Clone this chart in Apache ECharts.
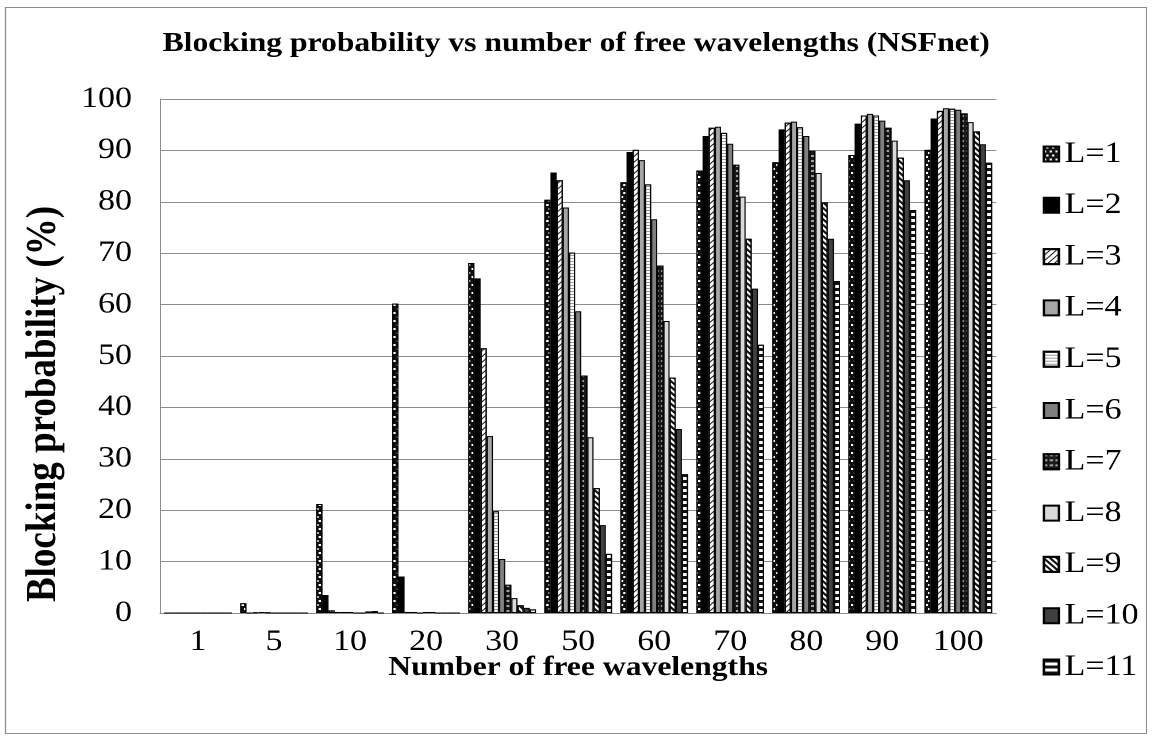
<!DOCTYPE html>
<html>
<head>
<meta charset="utf-8">
<script src="https://cdn.jsdelivr.net/npm/echarts@6/dist/echarts.min.js"></script>
<style>
  html, body { margin: 0; padding: 0; background: #fff; overflow: hidden; }
  #wrap { width: 1152px; height: 740px; overflow: hidden; }
  #chart { height: 740px; transform-origin: 0 0; }
</style>
</head>
<body>
<div id="wrap"><div id="chart"></div></div>
<script>
// Number of free wavelengths (x categories)
const categories = ['1', '5', '10', '20', '30', '50', '60', '70', '80', '90', '100'];

// Blocking probability (%) for each path length L
const L1  = [0, 1.9, 21.2, 60.2, 68.1, 80.4, 83.8, 86.1, 87.7, 89.1, 90.1];
const L2  = [0, 0,    3.5,  7.1, 65.1, 85.7, 89.7, 92.8, 94.1, 95.2, 96.2];
const L3  = [0, 0.1,  0.5,  0.2, 51.5, 84.2, 90.1, 94.4, 95.4, 96.8, 97.7];
const L4  = [0, 0.2,  0.2,  0.2, 34.4, 78.9, 88.1, 94.6, 95.6, 97.1, 98.2];
const L5  = [0, 0.1,  0.2,  0,   19.8, 70.1, 83.4, 93.4, 94.5, 96.8, 98.1];
const L6  = [0, 0,    0.2,  0.2, 10.5, 58.7, 76.6, 91.3, 92.8, 95.8, 97.9];
const L7  = [0, 0,    0,    0.2,  5.5, 46.2, 67.6, 87.2, 89.9, 94.4, 97.2];
const L8  = [0, 0,    0,    0,    2.9, 34.2, 56.8, 81.0, 85.6, 91.9, 95.5];
const L9  = [0, 0,    0.3,  0,    1.5, 24.3, 45.8, 72.8, 79.9, 88.6, 93.7];
const L10 = [0, 0,    0.4,  0,    1.0, 17.1, 35.8, 63.1, 72.8, 84.2, 91.2];
const L11 = [0, 0,    0,    0,    0.7, 11.5, 27.0, 52.2, 64.6, 78.4, 87.6];

const seriesNames = ['L=1', 'L=2', 'L=3', 'L=4', 'L=5', 'L=6', 'L=7', 'L=8', 'L=9', 'L=10', 'L=11'];
const seriesData = [L1, L2, L3, L4, L5, L6, L7, L8, L9, L10, L11];

const FONT = "'Liberation Serif', 'Times New Roman', serif";

// The chart is laid out on a narrower canvas and widened with CSS,
// giving the broad, wide-set lettering of the figure.
const SX = 1.15;
const W = 1152 / SX;
const px = v => v / SX;   // horizontal page pixels -> layout pixels

const chartEl = document.getElementById('chart');
chartEl.style.width = W + 'px';
chartEl.style.transform = 'scaleX(' + SX + ')';

// Fill colour and optional hatch pattern per series
const styles = [
  { color: '#111111', decal: { symbol: 'rect', symbolSize: 1, color: '#ffffff', dashArrayX: [[1.5, 2.5], [0, 2, 1.5, 0.5]], dashArrayY: [1.5, 1.5] } },
  { color: '#000000' },
  { color: '#ffffff', decal: { symbol: 'rect', symbolSize: 1, color: '#222222', dashArrayX: [1, 0], dashArrayY: [1, 3], rotation: -Math.PI / 4 } },
  { color: '#a6a6a6' },
  { color: '#ffffff', decal: { symbol: 'rect', symbolSize: 1, color: '#9a9a9a', dashArrayX: [1, 0], dashArrayY: [1, 2] } },
  { color: '#7f7f7f' },
  { color: '#1a1a1a', decal: { symbol: 'rect', symbolSize: 1, color: '#a0a0a0', dashArrayX: [3, 2], dashArrayY: [2, 3] } },
  { color: '#d9d9d9' },
  { color: '#ffffff', decal: { symbol: 'rect', symbolSize: 1, color: '#111111', dashArrayX: [1, 0], dashArrayY: [2, 2], rotation: Math.PI / 4 } },
  { color: '#404040' },
  { color: '#ffffff', decal: { symbol: 'rect', symbolSize: 1, color: '#111111', dashArrayX: [1, 0], dashArrayY: [3, 3] } }
];

const series = seriesNames.map((name, i) => ({
  name: name,
  type: 'bar',
  data: seriesData[i],
  barGap: '0%',
  barCategoryGap: '11%',
  itemStyle: Object.assign({ borderColor: '#000', borderWidth: 1 }, styles[i]),
  emphasis: { disabled: true }
}));

const chart = echarts.init(chartEl, null, { renderer: 'canvas', devicePixelRatio: 2 });

chart.setOption({
  animation: false,
  backgroundColor: '#ffffff',
  title: {
    text: 'Blocking probability vs number of free wavelengths (NSFnet)',
    left: 'center',
    top: 25,
    textStyle: { fontFamily: FONT, fontSize: 27.5, fontWeight: 'bold', color: '#000' }
  },
  graphic: [{
    type: 'rect',
    shape: { x: px(5.5), y: 7.5, width: px(1141), height: 726 },
    style: { fill: 'none', stroke: '#8c8c8c', lineWidth: 1 },
    silent: true
  }],
  legend: {
    orient: 'vertical',
    left: px(1037),
    top: 134,
    icon: 'rect',
    itemWidth: px(15),
    itemHeight: 15,
    itemGap: 21.3,
    textStyle: { fontFamily: FONT, fontSize: 29.5, color: '#000', lineHeight: 30 },
    data: seriesNames
  },
  grid: { left: px(160), right: px(156), top: 99, bottom: 127, containLabel: false },
  xAxis: {
    type: 'category',
    data: categories,
    name: 'Number of free wavelengths',
    nameLocation: 'middle',
    nameGap: 41,
    nameMoveOverlap: false,
    nameTextStyle: { fontFamily: FONT, fontSize: 27.5, fontWeight: 'bold', color: '#000' },
    axisLine: { lineStyle: { color: '#8c8c8c', width: 1 } },
    axisTick: { show: false },
    axisLabel: { fontFamily: FONT, fontSize: 29.5, color: '#000', margin: 14 }
  },
  yAxis: {
    type: 'value',
    min: 0,
    max: 100,
    interval: 10,
    name: 'Blocking probability (%)',
    nameLocation: 'middle',
    nameGap: 82,
    nameMoveOverlap: false,
    nameTextStyle: { fontFamily: FONT, fontSize: 37, fontWeight: 'bold', color: '#000', padding: [0, 96, 0, 0] },
    axisLine: { show: true, lineStyle: { color: '#8c8c8c', width: 1 } },
    axisTick: { show: false },
    axisLabel: { fontFamily: FONT, fontSize: 29.5, color: '#000', margin: px(28) },
    splitLine: { lineStyle: { color: '#8c8c8c', width: 1 } }
  },
  series: series
});
</script>
</body>
</html>
